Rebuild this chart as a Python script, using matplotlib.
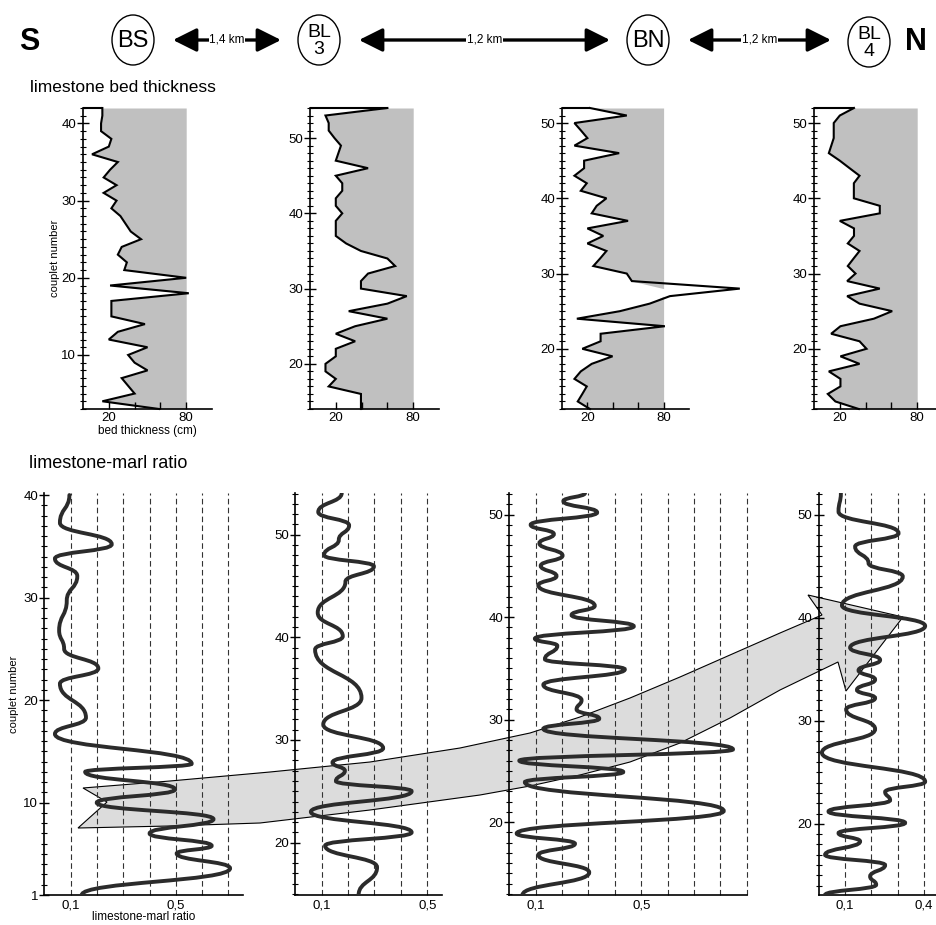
import numpy as np
import matplotlib
matplotlib.use("Agg")
import matplotlib.pyplot as plt
from matplotlib.path import Path
from matplotlib.patches import PathPatch, Ellipse, Polygon
from matplotlib.ticker import FixedLocator, MultipleLocator

plt.rcParams['font.family'] = ['Liberation Sans', 'DejaVu Sans']

W, H = 936, 925

# ---------------- data ----------------
distances = ['1,4 km', '1,2 km', '1,2 km']

# limestone bed thickness (cm) per couplet
bs_couplet = np.arange(3, 43)
bs_thick = [59, 15, 40, 35, 30, 50, 40, 35, 50, 20, 27, 48, 22, 22, 22, 82, 21, 80, 32, 34,
            27, 30, 45, 37, 33, 29, 22, 26, 16, 26, 16, 21, 27, 7, 20, 22, 14, 14, 15, 15]
bl3_couplet = np.arange(14, 55)
bl3_thick = [39.5, 39.5, 39.5, 14.5, 20, 12, 12, 20, 20, 35, 20, 35, 60, 30, 60, 75, 39.5, 39.5,
             45, 66, 60, 39.5, 28, 20, 20, 20, 25, 20, 20, 25, 25, 20, 45, 20, 22, 24, 19, 14.5,
             14.5, 12, 60]
bn_couplet = np.arange(12, 53)
bn_thick = [22, 12.4, 16, 19.5, 9.8, 14.8, 23.4, 39.8, 16, 30.4, 30.4, 81, 11.7, 45.6, 69, 85,
            140, 55, 51, 24.7, 30, 35, 20, 32.5, 20, 52, 23.4, 27.3, 35, 14.8, 19.5, 9.8, 17.4,
            17.4, 45, 9.8, 20, 15, 9.8, 51, 22]
bl4_couplet = np.arange(12, 53)
bl4_thick = [34.7, 16.6, 10.7, 20.5, 20.5, 11.5, 35.3, 20.5, 40.7, 35.3, 13.3, 20.5, 46.4, 60.6,
             35.3, 25.7, 51, 25.7, 32.2, 26.2, 30.7, 35.3, 26.2, 31, 31, 20, 51, 51, 30.9, 30.9,
             30.9, 35.3, 27.6, 20, 11.5, 13.4, 15.3, 15.3, 15.3, 20, 31]

# limestone-marl ratio: turning points of the curves (couplet, ratio)
bs_ratio_y = [1.0, 3.6, 5.05, 5.8, 7.0, 8.4, 10.0, 11.3, 13.0, 13.8, 16.7, 18.3, 21.6, 23.1,
              25.0, 26.8, 29.7, 32.1, 33.8, 35.2, 37.3, 40.0]
bs_ratio_x = [0.142, 0.706, 0.503, 0.636, 0.40, 0.643, 0.199, 0.497, 0.155, 0.56, 0.04, 0.158,
              0.059, 0.205, 0.075, 0.056, 0.085, 0.125, 0.04, 0.256, 0.059, 0.095]
bl3_ratio_y = [14.9, 17.6, 19.7, 21.0, 23.0, 25.0, 26.0, 27.0, 27.8, 29.2, 31.5, 34.1, 38.8,
               40.1, 42.4, 45.4, 46.9, 48.0, 49.5, 50.9, 52.2, 54.05]
bl3_ratio_x = [0.24, 0.31, 0.113, 0.441, 0.059, 0.441, 0.154, 0.188, 0.141, 0.333, 0.106, 0.251,
               0.075, 0.18, 0.085, 0.19, 0.298, 0.109, 0.165, 0.204, 0.087, 0.176]
bn_ratio_y = [12.9, 15.1, 16.8, 17.9, 18.9, 21.1, 23.9, 24.9, 26.0, 27.1, 29.1, 30.1, 31.0, 31.9,
              33.4, 34.9, 35.9, 37.2, 37.9, 39.1, 40.2, 41.1, 43.1, 44.0, 45.0, 46.0, 47.2,
              48.1, 49.0, 50.2, 51.3, 52.1]
bn_ratio_x = [0.05, 0.303, 0.11, 0.249, 0.028, 0.813, 0.059, 0.432, 0.038, 0.848, 0.129, 0.341,
              0.255, 0.274, 0.129, 0.438, 0.135, 0.182, 0.097, 0.472, 0.236, 0.324, 0.11, 0.179,
              0.119, 0.202, 0.114, 0.169, 0.081, 0.333, 0.205, 0.287]
bl4_ratio_y = [13.1, 14.1, 14.9, 16.0, 17.0, 18.3, 19.1, 20.1, 21.2, 22.3, 23.1, 24.1, 26.9,
               29.2, 31.1, 32.2, 33.0, 34.0, 34.9, 35.9, 37.1, 39.2, 41.2, 44.0, 45.3, 46.9,
               48.2, 50.3, 52.1]
bl4_ratio_x = [0.025, 0.219, 0.196, 0.253, 0.025, 0.158, 0.076, 0.329, 0.038, 0.272, 0.253,
               0.405, 0.013, 0.215, 0.105, 0.215, 0.146, 0.215, 0.152, 0.234, 0.12, 0.405,
               0.089, 0.32, 0.19, 0.139, 0.304, 0.076, 0.085]

# correlation arrow outline (figure pixels)
band = [(83, 788), (170, 781), (270, 772), (370, 762), (460, 748), (530, 733), (580, 717),
        (630, 698), (680, 677), (730, 655), (780, 633), (822, 615), (808, 595), (903, 617),
        (846, 691), (838, 662), (780, 690), (730, 718), (680, 743), (630, 762), (580, 775),
        (530, 786), (480, 795), (370, 810), (260, 823), (170, 826), (78, 828), (107, 802)]

fig = plt.figure(figsize=(W / 100, H / 100), dpi=100)

# background layer for header + arrow
bg = fig.add_axes([0, 0, 1, 1], zorder=-1)
bg.set_xlim(0, W)
bg.set_ylim(H, 0)
bg.axis('off')
bg.add_patch(Polygon(band, closed=True, facecolor='#dcdcdc', edgecolor='black', lw=0.8))

# header
bg.text(29, 42, 'S', fontsize=22, fontweight='bold', ha='center', va='center')
bg.text(905, 42, 'N', fontsize=22, fontweight='bold', ha='left', va='center')
circ = [(133, 40, 'BS'), (319, 40, 'BL\n3'), (648, 40, 'BN'), (869, 42, 'BL\n4')]
for cx, cy, lab in circ:
    bg.add_patch(Ellipse((cx, cy), 42, 50, facecolor='white', edgecolor='black', lw=1))
    fs = 17 if '\n' not in lab else 14
    bg.text(cx, cy + 1, lab, fontsize=fs, ha='center', va='center', linespacing=0.95)
for i, d in enumerate(distances):
    x0 = circ[i][0] + 40
    x1 = circ[i + 1][0] - 38
    bg.annotate('', xy=(x1, 40), xytext=(x0, 40),
                arrowprops=dict(arrowstyle='<|-|>,head_length=0.8,head_width=0.4',
                                lw=2.4, color='black', mutation_scale=18,
                                shrinkA=0, shrinkB=0))
    bg.text((x0 + x1) / 2, 40, d, fontsize=8.5, ha='center', va='center',
            bbox=dict(facecolor='white', edgecolor='none', pad=0.5))

bg.text(30, 88, 'limestone bed thickness', fontsize=12.5, ha='left', va='center')
bg.text(29, 463, 'limestone-marl ratio', fontsize=13, ha='left', va='center')


def place(l, r, t, b):
    ax = fig.add_axes([l / W, 1 - b / H, (r - l) / W, (b - t) / H])
    ax.set_facecolor('none')
    for s in ['top', 'right']:
        ax.spines[s].set_visible(False)
    return ax


# ---------------- bed thickness panels ----------------
thick_panels = [
    (83, 212, bs_couplet, bs_thick, (3, 42), [10, 20, 30, 40]),
    (310, 439, bl3_couplet, bl3_thick, (14, 54), [20, 30, 40, 50]),
    (562, 689, bn_couplet, bn_thick, (12, 52), [20, 30, 40, 50]),
    (814, 943, bl4_couplet, bl4_thick, (12, 52), [20, 30, 40, 50]),
]
for i, (l, r, yc, th, yl, yt) in enumerate(thick_panels):
    ax = place(l, r, 108, 409)
    th = np.array(th, dtype=float)
    ax.fill_betweenx(yc, np.minimum(th, 80), 80, color='#c0c0c0', lw=0)
    ax.plot(th, yc, color='black', lw=1.5, clip_on=False, solid_joinstyle='miter')
    ax.hlines(yc[-1], 0, th[-1], color='black', lw=1.5, clip_on=False)
    ax.set_xlim(0, 100)
    ax.set_ylim(*yl)
    ax.xaxis.set_major_locator(FixedLocator([20, 40, 60, 80]))
    ax.set_xticklabels(['20', '', '', '80'])
    ax.yaxis.set_major_locator(FixedLocator(yt))
    ax.yaxis.set_minor_locator(MultipleLocator(1))
    ax.tick_params(axis='x', direction='in', length=5, width=1, labelsize=9.5, pad=2)
    ax.tick_params(axis='y', which='major', direction='inout', length=8, width=1,
                   labelsize=9.5, pad=1)
    ax.tick_params(axis='y', which='minor', direction='inout', length=5, width=0.8)
    for s in ['left', 'bottom']:
        ax.spines[s].set_linewidth(1.2)
    if i == 0:
        ax.set_ylabel('couplet number', fontsize=8, labelpad=1)
        ax.set_xlabel('bed thickness (cm)', fontsize=8.5, labelpad=1)


# ---------------- limestone-marl ratio panels ----------------
def smooth_path(x, y, k=0.5):
    verts = [(x[0], y[0])]
    codes = [Path.MOVETO]
    for j in range(len(x) - 1):
        dy = y[j + 1] - y[j]
        verts += [(x[j], y[j] + k * dy), (x[j + 1], y[j + 1] - k * dy), (x[j + 1], y[j + 1])]
        codes += [Path.CURVE4] * 3
    return Path(verts, codes)


ratio_panels = [
    (44.4, 242.7, bs_ratio_x, bs_ratio_y, 0.754, (1, 40.2), [1, 10, 20, 30, 40],
     [0.1, 0.2, 0.3, 0.4, 0.5, 0.6, 0.7], ['0,1', '0,5'], [0.1, 0.5]),
    (295.3, 441.7, bl3_ratio_x, bl3_ratio_y, 0.555, (14.9, 54.05), [20, 30, 40, 50],
     [0.1, 0.2, 0.3, 0.4, 0.5], ['0,1', '0,5'], [0.1, 0.5]),
    (509.3, 746.7, bn_ratio_x, bn_ratio_y, 0.9, (12.9, 52.1), [20, 30, 40, 50],
     [0.1, 0.2, 0.3, 0.4, 0.5, 0.6, 0.7, 0.8, 0.9], ['0,1', '0,5'], [0.1, 0.5]),
    (818.5, 937, bl4_ratio_x, bl4_ratio_y, 0.45, (13.1, 52.1), [20, 30, 40, 50],
     [0.1, 0.2, 0.3, 0.4], ['0,1', '0,4'], [0.1, 0.4]),
]
for i, (l, r, rx, ry, xmax, yl, yt, grid, xlab, xt) in enumerate(ratio_panels):
    ax = place(l, r, 493, 895)
    for g in grid:
        ax.axvline(g, color='#333333', lw=0.8, ls=(0, (5, 3)), zorder=1, clip_on=False)
    ax.add_patch(PathPatch(smooth_path(rx, ry), fill=False, edgecolor='#2b2b2b', lw=2.8,
                           capstyle='round', zorder=3))
    ax.set_xlim(0, xmax)
    ax.set_ylim(*yl)
    ax.xaxis.set_major_locator(FixedLocator(xt))
    ax.set_xticklabels(xlab)
    ax.yaxis.set_major_locator(FixedLocator(yt))
    ax.yaxis.set_minor_locator(MultipleLocator(1))
    ax.tick_params(axis='x', direction='in', length=0, labelsize=9.5, pad=3)
    ax.tick_params(axis='y', which='major', direction='inout', length=7, width=1,
                   labelsize=9.5, pad=1)
    ax.tick_params(axis='y', which='minor', direction='inout', length=4, width=0.8)
    for s in ['left', 'bottom']:
        ax.spines[s].set_linewidth(1.2)
    if i == 0:
        ax.set_ylabel('couplet number', fontsize=8, labelpad=3)
        ax.set_xlabel('limestone-marl ratio', fontsize=8.5, labelpad=0)

fig.savefig('out.png', dpi=100)
